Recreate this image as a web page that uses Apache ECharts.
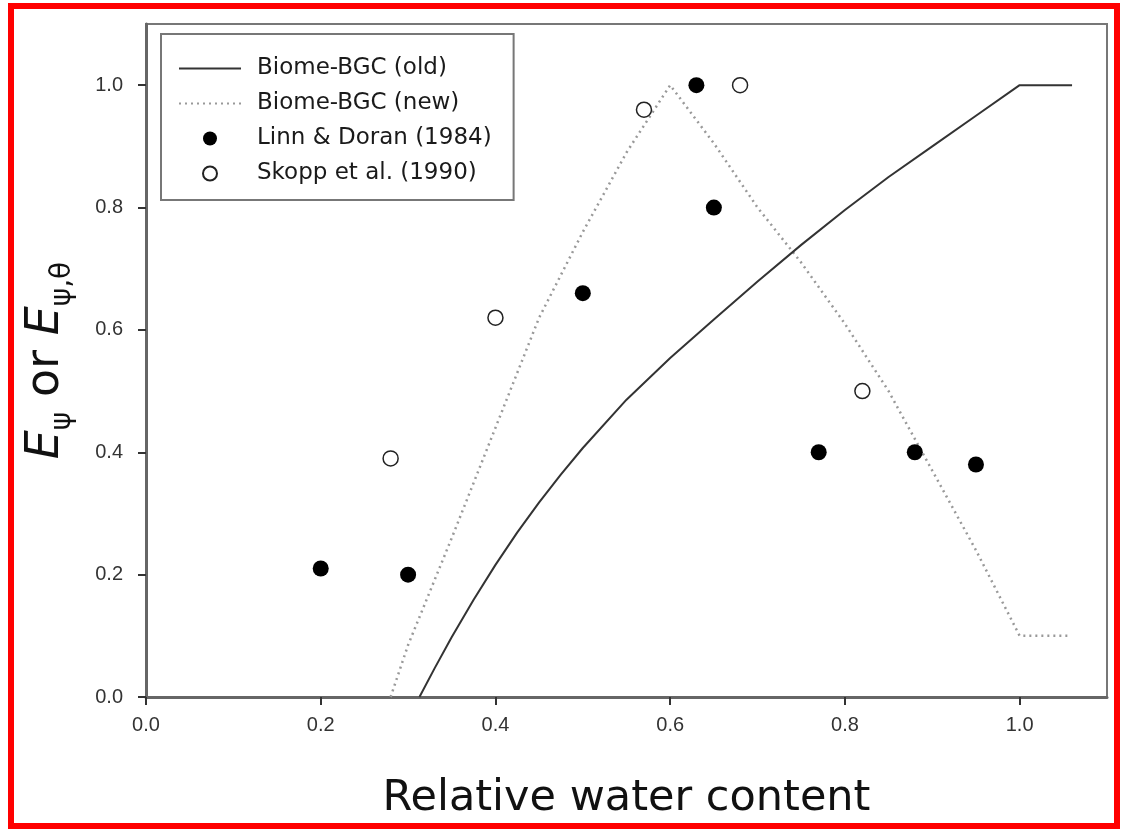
<!DOCTYPE html>
<html>
<head>
<meta charset="utf-8">
<script src="https://cdn.jsdelivr.net/npm/echarts@6/dist/echarts.min.js"></script>
<style>
html,body{margin:0;padding:0;background:#fff;}
#chart{width:1121px;height:829px;}
</style>
</head>
<body>
<div id="chart"></div>
<script>
// ---- data ----
const seriesNames = ['Biome-BGC (old)', 'Biome-BGC (new)', 'Linn & Doran (1984)', 'Skopp et al. (1990)'];
const tickValues = [0, 0.2, 0.4, 0.6, 0.8, 1.0];

const oldX = [0.313, 0.33, 0.35, 0.375, 0.40, 0.425, 0.45, 0.475, 0.50, 0.55, 0.60, 0.65, 0.70, 0.75, 0.80, 0.85, 0.90, 0.95, 1.00, 1.06];
const oldY = [0.000, 0.046, 0.098, 0.159, 0.216, 0.269, 0.318, 0.364, 0.407, 0.486, 0.554, 0.617, 0.679, 0.739, 0.796, 0.850, 0.900, 0.950, 1.000, 1.000];

const newX = [0.28, 0.30, 0.35, 0.40, 0.45, 0.50, 0.55, 0.60, 0.65, 0.70, 0.75, 0.80, 0.85, 0.90, 0.95, 1.00, 1.055];
const newY = [0.00, 0.085, 0.26, 0.44, 0.62, 0.76, 0.89, 1.00, 0.905, 0.80, 0.71, 0.61, 0.50, 0.37, 0.24, 0.10, 0.10];

const linnX = [0.20, 0.30, 0.50, 0.63, 0.65, 0.77, 0.88, 0.95];
const linnY = [0.21, 0.20, 0.66, 1.00, 0.80, 0.40, 0.40, 0.38];

const skoppX = [0.28, 0.40, 0.57, 0.68, 0.82];
const skoppY = [0.39, 0.62, 0.96, 1.00, 0.50];

const zip = (xs, ys) => xs.map((x, i) => [x, ys[i]]);

const chart = echarts.init(document.getElementById('chart'));
const FONT = 'DejaVu Sans';
const TICKFONT = 'Liberation Sans';
const axisCommon = {
  type: 'value', min: 0, max: 1.1, interval: 0.2,
  axisLine: { show: true, lineStyle: { color: '#666', width: 3 } },
  axisTick: { show: true, inside: false, length: 8, lineStyle: { color: '#333', width: 2 }, customValues: tickValues },
  axisLabel: { customValues: tickValues, formatter: v => v.toFixed(1), color: '#333', fontSize: 20, fontFamily: TICKFONT },
  splitLine: { show: false }
};

chart.setOption({
  animation: false,
  backgroundColor: '#fff',
  grid: { left: 146, top: 24, right: 14, bottom: 132, show: true, borderColor: '#777', borderWidth: 2 },
  xAxis: Object.assign({}, axisCommon, {
    name: 'Relative water content', nameLocation: 'middle', nameGap: 80,
    nameTextStyle: { fontSize: 43, color: '#111', fontFamily: FONT },
    axisLabel: Object.assign({}, axisCommon.axisLabel, { margin: 18 })
  }),
  yAxis: Object.assign({}, axisCommon, {
    name: '{e|E}{s|ψ}{o| or }{e|E}{s|ψ,θ}', nameLocation: 'middle', nameGap: 69, nameRotate: 90,
    nameTextStyle: {
      color: '#111', fontFamily: FONT,
      rich: {
        e: { fontSize: 46, fontStyle: 'italic', lineHeight: 54, verticalAlign: 'top', color: '#111', fontFamily: FONT },
        o: { fontSize: 46, lineHeight: 54, verticalAlign: 'top', color: '#111', fontFamily: FONT },
        s: { fontSize: 28, lineHeight: 28, verticalAlign: 'bottom', color: '#111', fontFamily: FONT }
      }
    },
    axisLabel: Object.assign({}, axisCommon.axisLabel, { margin: 23 })
  }),
  legend: {
    orient: 'vertical', left: 161, top: 34,
    padding: [23, 22, 15, 17], itemGap: 12, itemWidth: 62, itemHeight: 14,
    borderColor: '#777', borderWidth: 2, backgroundColor: '#fff',
    textStyle: { fontSize: 23, color: '#1a1a1a', fontFamily: FONT, lineHeight: 22, padding: [0, 0, 0, 11] },
    data: seriesNames
  },
  series: [
    { name: seriesNames[0], type: 'line', data: zip(oldX, oldY), symbol: 'none',
      lineStyle: { color: '#333', width: 2 }, itemStyle: { color: 'rgba(0,0,0,0)', borderWidth: 0 }, z: 3 },
    { name: seriesNames[1], type: 'line', data: zip(newX, newY), symbol: 'none',
      lineStyle: { color: '#999', width: 2.5, type: [2, 4] }, itemStyle: { color: 'rgba(0,0,0,0)', borderWidth: 0 }, z: 2 },
    { name: seriesNames[2], type: 'scatter', data: zip(linnX, linnY), symbol: 'circle', symbolSize: 16,
      itemStyle: { color: '#000', opacity: 1 }, z: 5 },
    { name: seriesNames[3], type: 'scatter', data: zip(skoppX, skoppY), symbol: 'circle', symbolSize: 15,
      itemStyle: { color: '#fff', borderColor: '#222', borderWidth: 1.5, opacity: 1 }, z: 5 }
  ],
  graphic: [
    { type: 'rect', silent: true, z: 100,
      shape: { x: 11, y: 6, width: 1106, height: 820 },
      style: { fill: 'none', stroke: '#ff0000', lineWidth: 6 } }
  ]
});
</script>
</body>
</html>
